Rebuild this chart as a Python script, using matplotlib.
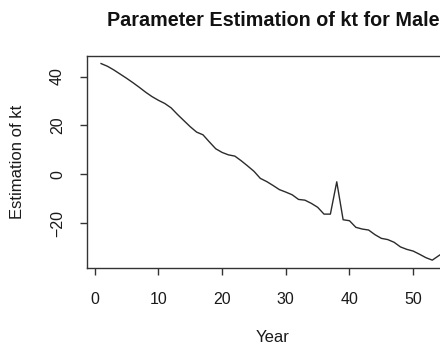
import numpy as np
import matplotlib
matplotlib.use("Agg")
import matplotlib.pyplot as plt

# Estimated kt by year index
years = list(range(1, 56))
kt = [45.3, 44.2, 42.7, 41.0, 39.3, 37.5, 35.6, 33.6, 31.8, 30.3,
      29.0, 27.2, 24.5, 22.0, 19.5, 17.3, 16.2, 13.3, 10.5, 9.0,
      8.0, 7.5, 5.6, 3.5, 1.3, -1.6, -2.9, -4.5, -6.2, -7.2,
      -8.3, -10.2, -10.5, -11.8, -13.4, -16.2, -16.2, -3.0, -18.5, -18.9,
      -21.6, -22.3, -22.7, -24.6, -26.1, -26.6, -27.7, -29.6, -30.6, -31.3,
      -32.6, -34.0, -35.0, -33.2, -31.5]
xticks = [0, 10, 20, 30, 40, 50]
yticks = [-20, 0, 20, 40]

plt.rcParams['font.family'] = ['Liberation Sans', 'DejaVu Sans']

W, H = 440, 349
fig = plt.figure(figsize=(W / 100, H / 100), dpi=100)

# axes box in pixels (plot region extends past the right edge)
left_px, top_px, bottom_px = 87.3, 55.7, 268.0
px_per_year = 6.37

def padded(lo, hi):
    r = hi - lo
    return lo - 0.04 * r, hi + 0.04 * r

xlim = padded(min(years), max(years))
ylim = padded(min(kt), max(kt))
width_px = (xlim[1] - xlim[0]) * px_per_year
ax = fig.add_axes([left_px / W, 1 - bottom_px / H, width_px / W,
                   (bottom_px - top_px) / H])

ax.plot(years, kt, color='#2b2b2b', lw=1.0)
ax.set_xlim(*xlim)
ax.set_ylim(*ylim)
ax.set_xticks(xticks)
ax.set_yticks(yticks)

for s in ax.spines.values():
    s.set_color('#333333')
    s.set_linewidth(1.0)

ax.tick_params(axis='both', direction='out', length=5, width=1.0,
               color='#333333', labelsize=11.5, labelcolor='#1a1a1a')
ax.tick_params(axis='x', pad=12)
ax.tick_params(axis='y', pad=11, labelrotation=90)
for lab in ax.get_yticklabels():
    lab.set_va('center')

ax_h = bottom_px - top_px
ax.set_xlabel('Year', fontsize=12, color='#1a1a1a')
ax.xaxis.set_label_coords(0.5, -70 / ax_h)
ax.xaxis.label.set_va('center')
ax.set_ylabel('Estimation of kt', fontsize=12, color='#1a1a1a')
ax.yaxis.set_label_coords(-69.3 / width_px, 0.5)
ax.yaxis.label.set_va('center')

ax.text(0.5, 1 + 35.7 / ax_h, 'Parameter Estimation of kt for Male',
        transform=ax.transAxes, ha='center', va='center',
        fontsize=14.2, fontweight='bold', color='#111111')

fig.savefig('out.png', dpi=100)
